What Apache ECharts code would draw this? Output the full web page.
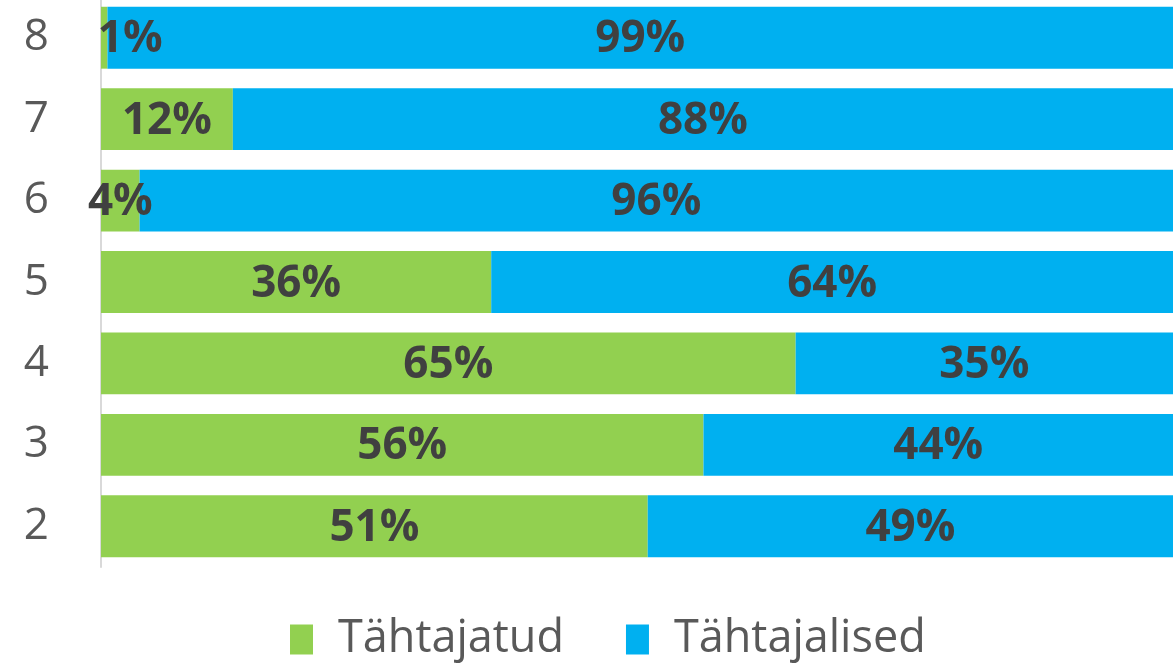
<!DOCTYPE html>
<html>
<head>
<meta charset="utf-8">
<script src="https://cdn.jsdelivr.net/npm/echarts@6/dist/echarts.min.js"></script>
<style>
  html, body { margin: 0; padding: 0; background: #fff; overflow: hidden; }
  #chart { position: relative; top: -3px; width: 1176px; height: 666px; }
</style>
</head>
<body>
<div id="chart"></div>
<script>
// kategooriad alt üles
const categories = ['2', '3', '4', '5', '6', '7', '8']
// osakaal protsentides
const tahtajatud = [51.0, 56.2, 64.8, 36.4, 3.6, 12.3, 0.6]
const tahtajalised = [49.0, 43.8, 35.2, 63.6, 96.4, 87.7, 99.4]
const seriesNames = ['Tähtajatud', 'Tähtajalised']

const chart = echarts.init(document.getElementById('chart'))

const labelStyle = {
  show: true,
  position: 'inside',
  offset: [0, 2],
  fontFamily: 'Open Sans',
  fontWeight: 'bold',
  fontSize: 44,
  color: '#404040',
  formatter: (p) => Math.round(p.value) + '%',
}

const option = {
  animation: false,
  grid: {
    left: 101,
    right: 3,
    top: 0,
    height: 570,
  },
  legend: {
    data: seriesNames,
    left: 285,
    top: 615,
    itemWidth: 23,
    itemHeight: 30,
    itemGap: 62,
    icon: 'rect',
    textStyle: {
      fontFamily: 'Open Sans',
      fontSize: 45,
      color: '#595959',
      padding: [0, 0, 0, 20],
    },
  },
  xAxis: {
    type: 'value',
    min: 0,
    max: 100,
    show: false,
  },
  yAxis: {
    type: 'category',
    data: categories,
    axisLine: { show: true, lineStyle: { color: '#d9d9d9', width: 2 } },
    axisTick: { show: false },
    axisLabel: {
      fontFamily: 'Open Sans',
      fontSize: 44,
      color: '#595959',
      margin: 52,
    },
  },
  series: [
    {
      name: seriesNames[0],
      type: 'bar',
      stack: 'kokku',
      barCategoryGap: '24%',
      itemStyle: { color: '#92d050' },
      label: labelStyle,
      data: tahtajatud.map((v, i) =>
        // väike lõik: silt nihutatud paremale nagu originaalis
        v < 2 ? { value: v, label: { offset: [26, 2] } } : v
      ),
    },
    {
      name: seriesNames[1],
      type: 'bar',
      stack: 'kokku',
      itemStyle: { color: '#00b0f0' },
      label: labelStyle,
      data: tahtajalised,
    },
  ],
}

chart.setOption(option)
</script>
</body>
</html>
